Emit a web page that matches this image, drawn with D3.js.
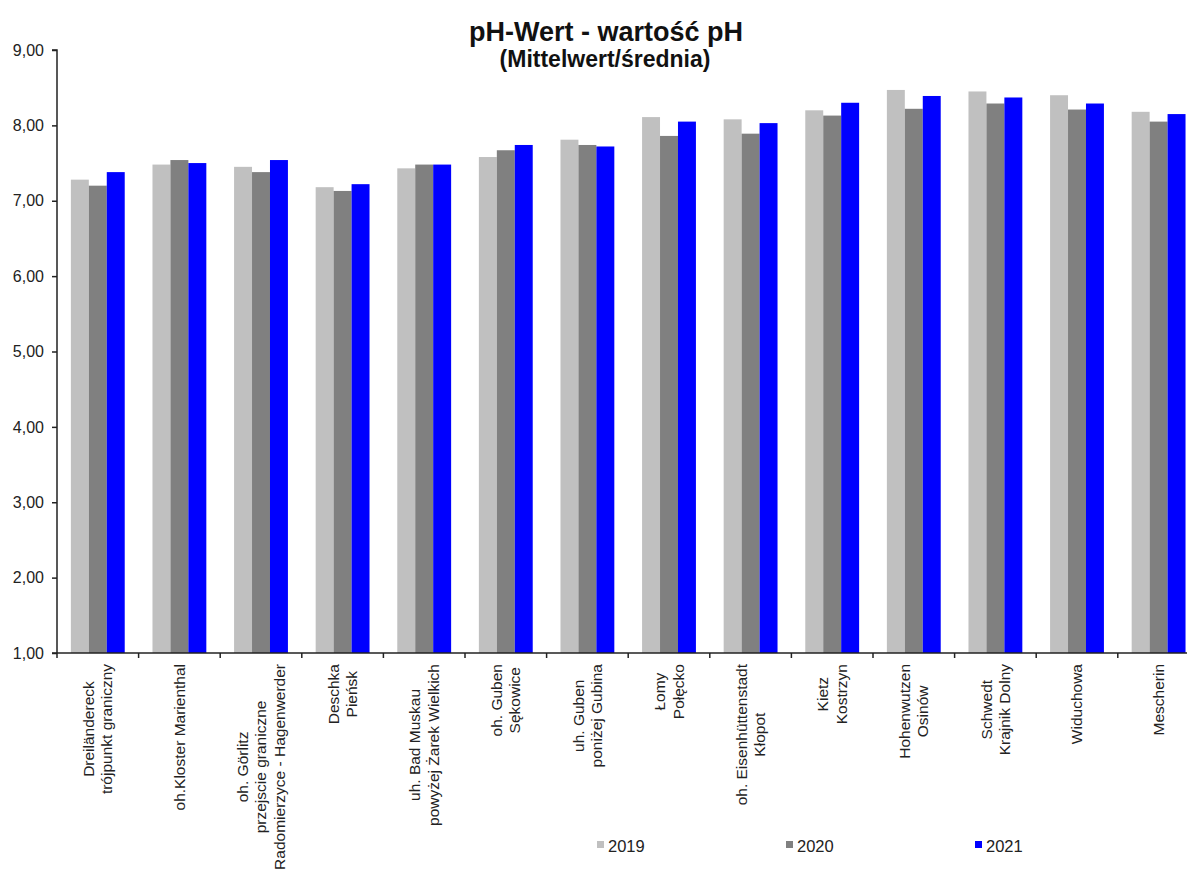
<!DOCTYPE html>
<html>
<head>
<meta charset="utf-8">
<script src="https://cdn.jsdelivr.net/npm/d3@7"></script>
<style>
  html, body { margin: 0; padding: 0; background: #fff; }
  svg { display: block; font-family: "Liberation Sans", Arial, sans-serif; }
</style>
</head>
<body>
<svg id="chart" width="1187" height="878"></svg>
<script>
const categories = [
  "Dreiländereck\ntrójpunkt graniczny",
  "oh.Kloster Marienthal",
  "oh. Görlitz\nprzejscie graniczne\nRadomierzyce - Hagenwerder",
  "Deschka\nPieńsk",
  "uh. Bad Muskau\npowyżej Żarek Wielkich",
  "oh. Guben\nSękowice",
  "uh. Guben\nponiżej Gubina",
  "Łomy\nPołęcko",
  "oh. Eisenhüttenstadt\nKłopot",
  "Kietz\nKostrzyn",
  "Hohenwutzen\nOsinów",
  "Schwedt\nKrajnik Dolny",
  "Widuchowa",
  "Mescherin"
];
const seriesNames = ["2019", "2020", "2021"];
const values2019 = [7.28, 7.48, 7.45, 7.18, 7.43, 7.58, 7.81, 8.11, 8.08, 8.20, 8.47, 8.45, 8.40, 8.18];
const values2020 = [7.20, 7.54, 7.38, 7.13, 7.48, 7.67, 7.74, 7.86, 7.89, 8.13, 8.22, 8.29, 8.21, 8.05];
const values2021 = [7.38, 7.50, 7.54, 7.22, 7.48, 7.74, 7.72, 8.05, 8.03, 8.30, 8.39, 8.37, 8.29, 8.15];
const yTicks = [1, 2, 3, 4, 5, 6, 7, 8, 9];
const titleText = "pH-Wert - wartość pH";
const subtitleText = "(Mittelwert/średnia)";
const colors = ["#c0c0c0", "#808080", "#0000ff"];

const seriesValues = [values2019, values2020, values2021];
const svg = d3.select("#chart");

const plotLeft = 57, plotTop = 50, plotBottom = 653;
const stepW = 81.6;
const plotRight = plotLeft + stepW * categories.length;

const y = d3.scaleLinear().domain([1, 9]).range([plotBottom, plotTop]);
const x0 = d3.scaleBand().domain(categories).range([plotLeft, plotRight]).paddingInner(0.34).paddingOuter(0.17);
const x1 = d3.scaleBand().domain(seriesNames).range([0, x0.bandwidth()]);

// Bars
const groups = svg.append("g").selectAll("g")
  .data(categories)
  .join("g")
  .attr("transform", d => `translate(${x0(d)},0)`);

groups.selectAll("rect")
  .data((d, i) => seriesNames.map((s, j) => ({ s, v: seriesValues[j][i], j })))
  .join("rect")
  .attr("x", d => x1(d.s))
  .attr("width", x1.bandwidth())
  .attr("y", d => y(d.v))
  .attr("height", d => y(1) - y(d.v))
  .attr("fill", d => colors[d.j]);

// Y axis
const yAxis = d3.axisLeft(y).tickValues(yTicks).tickSize(5).tickPadding(8)
  .tickFormat(d => d3.format(".2f")(d).replace(".", ","));
const yg = svg.append("g").attr("transform", `translate(${plotLeft},0)`).call(yAxis);
yg.select(".domain").attr("stroke", "#222").attr("stroke-width", 1.5).attr("d", `M-5,${plotTop}H0V${plotBottom}`);
yg.selectAll(".tick line").attr("stroke", "#222").attr("stroke-width", 1.5);
yg.selectAll(".tick text").attr("font-size", 16).attr("fill", "#222").attr("font-family", "Liberation Sans, Arial, sans-serif");

// X axis line + ticks at category boundaries
const xg = svg.append("g");
xg.append("line").attr("x1", plotLeft - 5).attr("x2", plotRight).attr("y1", plotBottom).attr("y2", plotBottom)
  .attr("stroke", "#222").attr("stroke-width", 1.5);
const boundaries = d3.range(categories.length + 1).map(i => plotLeft + i * x0.step());
xg.selectAll("line.tk").data(boundaries).join("line").attr("class", "tk")
  .attr("x1", d => d).attr("x2", d => d).attr("y1", plotBottom).attr("y2", plotBottom + 5)
  .attr("stroke", "#222").attr("stroke-width", 1.5);

// Category labels (rotated, multi-line, centered lines, top-aligned at axis)
const labelFont = 15.5, lineGap = 18.3, labelTop = 664;
categories.forEach(cat => {
  const lines = cat.split("\n");
  const cx = x0(cat) + x0.bandwidth() / 2;
  const g = svg.append("g");
  const texts = lines.map((ln, i) => g.append("text").text(ln)
    .attr("font-size", labelFont).attr("fill", "#222").attr("text-anchor", "middle"));
  const maxW = d3.max(texts, t => t.node().getComputedTextLength());
  const cy = labelTop + maxW / 2;
  texts.forEach((t, i) => {
    const bx = cx + (i - (lines.length - 1) / 2) * lineGap + 0.35 * labelFont;
    t.attr("transform", `translate(${bx},${cy}) rotate(-90)`);
  });
});

// Title
svg.append("text").attr("x", 606).attr("y", 41).attr("text-anchor", "middle")
  .attr("font-size", 27).attr("font-weight", "bold").attr("fill", "#111").text(titleText);
svg.append("text").attr("x", 605).attr("y", 67).attr("text-anchor", "middle")
  .attr("font-size", 23).attr("font-weight", "bold").attr("fill", "#111").text(subtitleText);

// Legend
const legendX = [597, 786, 975];
const lg = svg.append("g").selectAll("g").data(seriesNames).join("g")
  .attr("transform", (d, i) => `translate(${legendX[i]},0)`);
lg.append("rect").attr("x", 0).attr("y", 841).attr("width", 7).attr("height", 7)
  .attr("fill", (d, i) => colors[i]);
lg.append("text").attr("x", 11).attr("y", 852).attr("font-size", 16.5).attr("fill", "#222").text(d => d);
</script>
</body>
</html>
